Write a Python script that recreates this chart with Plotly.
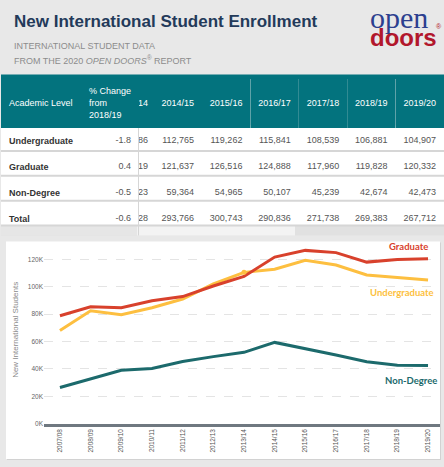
"""New international student enrollment: Open Doors table + trend chart."""
import plotly.graph_objects as go

W, H = 444, 467

YEARS = ["2007/08", "2008/09", "2009/10", "2010/11", "2011/12", "2012/13", "2013/14",
         "2014/15", "2015/16", "2016/17", "2017/18", "2018/19", "2019/20"]
UNDERGRAD = [68000, 82500, 79600, 84700, 91000, 102000, 110486,
             112765, 119262, 115841, 108539, 106881, 104907]
GRADUATE = [78800, 85300, 84700, 89700, 92800, 100500, 107519,
            121637, 126516, 124888, 117960, 119828, 120332]
NONDEGREE = [26500, 33000, 39000, 40400, 45400, 49000, 52123,
             59364, 54965, 50107, 45239, 42674, 42473]
TOTAL = [270128, 293766, 300743, 290836, 271738, 269383, 267712]

LEVELS = ["Undergraduate", "Graduate", "Non-Degree", "Total"]
PCT_CHANGE = ["-1.8", "0.4", "-0.5", "-0.6"]
TABLE_YEARS = YEARS[6:]

Y_TICKS = [0, 20000, 40000, 60000, 80000, 100000, 120000]
Y_TICKTEXT = ["0K", "20K", "40K", "60K", "80K", "100K", "120K"]

BG = "#e8e8e8"
TEAL_HEAD = "#03737e"
RED = "#d8412c"
YELLOW = "#fdbf40"
TEAL = "#1c6a6c"
NAVY = "#233a5a"
GREY_TXT = "#8c8c8c"
FONT = "Liberation Sans, Arial, sans-serif"
LABEL_FONT = "Lato, Open Sans, sans-serif"

TBL_L = 1     # table left edge, px
HEAD_T = 79   # where plotly's header block starts (teal strip above is a shape)


def px(x):
    return x / W


def py(y):
    return 1 - y / H


def fmt(v):
    return f"{v:,}"


# table cells
cols = [[f"<b>{s}</b>" for s in LEVELS], PCT_CHANGE]
for i in range(len(TABLE_YEARS)):
    cols.append([fmt(UNDERGRAD[6 + i]), fmt(GRADUATE[6 + i]), fmt(NONDEGREE[6 + i]), fmt(TOTAL[i])])

header = ["\u00a0<br>Academic\u00a0Level", "%\u00a0Change<br>from<br>2018/19"] + \
         ["\u00a0<br>" + y for y in TABLE_YEARS]
align = ["left"] + ["right"] * (len(header) - 1)

fig = go.Figure()

fig.add_trace(go.Table(
    domain=dict(x=[px(TBL_L), 1], y=[py(229), py(HEAD_T)]),
    columnwidth=[84 - TBL_L, 55, 17, 46] + [48.4] * 5,
    header=dict(values=header, align=align, height=50,
                fill_color=TEAL_HEAD, line=dict(color=TEAL_HEAD, width=0),
                font=dict(family=FONT, size=9, color="white")),
    cells=dict(values=cols, align=align, height=24.5,
               fill_color="rgba(0,0,0,0)", line=dict(color="rgba(0,0,0,0)", width=0),
               font=dict(family=FONT, size=9, color=["#333333"] + ["#555555"] * 8)),
))

series = [("Non-Degree", NONDEGREE, TEAL), ("Undergraduate", UNDERGRAD, YELLOW), ("Graduate", GRADUATE, RED)]
for name, vals, color in series:
    fig.add_trace(go.Scatter(x=YEARS, y=vals, name=name, mode="lines",
                             line=dict(color=color, width=3), hoverinfo="x+y"))

# hover dot on undergrad 2013/14
fig.add_trace(go.Scatter(x=[YEARS[6]], y=[UNDERGRAD[6]], mode="markers",
                         marker=dict(color=YELLOW, size=5), hoverinfo="skip"))

shapes = [
    # top strip of the teal header
    dict(type="rect", xref="paper", yref="paper", x0=px(TBL_L), x1=1, y0=py(HEAD_T + 0.5), y1=py(75),
         fillcolor=TEAL_HEAD, line=dict(width=0), layer="below"),
    # table body background
    dict(type="rect", xref="paper", yref="paper", x0=px(TBL_L), x1=1, y0=py(227), y1=py(126),
         fillcolor="white", line=dict(width=0), layer="below"),
    # scroll track + thumb
    dict(type="rect", xref="paper", yref="paper", x0=px(TBL_L), x1=1, y0=py(237), y1=py(227),
         fillcolor="#e1e1e1", line=dict(width=0), layer="below"),
    dict(type="rect", xref="paper", yref="paper", x0=px(TBL_L), x1=px(137), y0=py(237), y1=py(227),
         fillcolor="#e6e6e6", line=dict(width=0), layer="below"),
    dict(type="rect", xref="paper", yref="paper", x0=px(137), x1=px(295), y0=py(237), y1=py(227),
         fillcolor="#f3f3f3", line=dict(width=0), layer="below"),
    # frozen-column divider
    dict(type="line", xref="paper", yref="paper", x0=px(138.5), x1=px(138.5), y0=py(237), y1=py(127),
         line=dict(color="#d6d6d6", width=1), layer="below"),
    # chart card (shadow + white)
    dict(type="rect", xref="paper", yref="paper", x0=px(7), x1=px(441), y0=py(463), y1=py(244),
         fillcolor="#d2d2d2", line=dict(width=0), layer="below"),
    dict(type="rect", xref="paper", yref="paper", x0=px(6), x1=px(440), y0=py(462), y1=py(243),
         fillcolor="white", line=dict(width=0), layer="below"),
]
for yy in [152, 177, 202, 227]:
    shapes.append(dict(type="line", xref="paper", yref="paper", x0=px(TBL_L), x1=1, y0=py(yy), y1=py(yy),
                       line=dict(color="#d6d6d6", width=2), layer="below"))

annotations = [
    dict(text="<b>New International Student Enrollment</b>", x=px(12), y=py(22),
         font=dict(family=FONT, size=17, color=NAVY)),
    dict(text="INTERNATIONAL STUDENT DATA", x=px(12), y=py(46),
         font=dict(family=FONT, size=9, color=GREY_TXT)),
    dict(text="FROM THE 2020 <i>OPEN DOORS</i><sup>®</sup> REPORT", x=px(12), y=py(60),
         font=dict(family=FONT, size=9, color=GREY_TXT)),
    dict(text="open", x=px(368), y=py(18),
         font=dict(family="Liberation Serif, serif", size=30, color="#2c3f8f")),
    dict(text="<b>doors</b>", x=px(368), y=py(38),
         font=dict(family=FONT, size=24, color="#b2172c")),
    dict(text="®", x=px(434), y=py(27),
         font=dict(family=FONT, size=7, color="#b2172c")),
    dict(text="New International Students", x=px(16), y=py(332), textangle=-90, xanchor="center",
         font=dict(family=FONT, size=8, color="#8a8a8a")),
]
for a in annotations:
    a.setdefault("xref", "paper")
    a.setdefault("yref", "paper")
    a.setdefault("xanchor", "left")
    a.setdefault("yanchor", "middle")
    a["showarrow"] = False

end_labels = [("Graduate", GRADUATE, RED, 2, 12), ("Undergraduate", UNDERGRAD, YELLOW, 8, -12),
              ("Non-Degree", NONDEGREE, TEAL, 11, -15)]
for name, vals, color, xs, ys in end_labels:
    annotations.append(dict(text=f"<b>{name}</b>", x=YEARS[-1], y=vals[-1], xref="x", yref="y",
                            xanchor="right", yanchor="middle", xshift=xs, yshift=ys, showarrow=False,
                            font=dict(family=LABEL_FONT, size=9.5, color=color)))

fig.update_layout(
    width=W, height=H, margin=dict(l=0, r=0, t=0, b=0),
    paper_bgcolor=BG, plot_bgcolor="rgba(0,0,0,0)",
    showlegend=False, shapes=shapes, annotations=annotations,
    xaxis=dict(domain=[px(44), px(440)], range=[-0.52, 12.39], type="category",
               showgrid=False, showline=True, linecolor="#6f7880", linewidth=2.5,
               ticks="", tickangle=-90, tickfont=dict(family=FONT, size=6.5, color="#555555"),
               fixedrange=True),
    yaxis=dict(domain=[py(426.5), py(247.2)], range=[0, 130000],
               tickvals=Y_TICKS, ticktext=Y_TICKTEXT,
               showgrid=True, gridcolor="#e4e4e4", griddash="dash", gridwidth=1,
               zeroline=False, showline=False, ticks="",
               tickfont=dict(family=FONT, size=6.5, color="#666666"), fixedrange=True),
)

# the page body keeps the browser's 8px default margin otherwise
fig.write_html("out.html", config={"displayModeBar": False},
               post_script="document.body.style.margin='0';")
